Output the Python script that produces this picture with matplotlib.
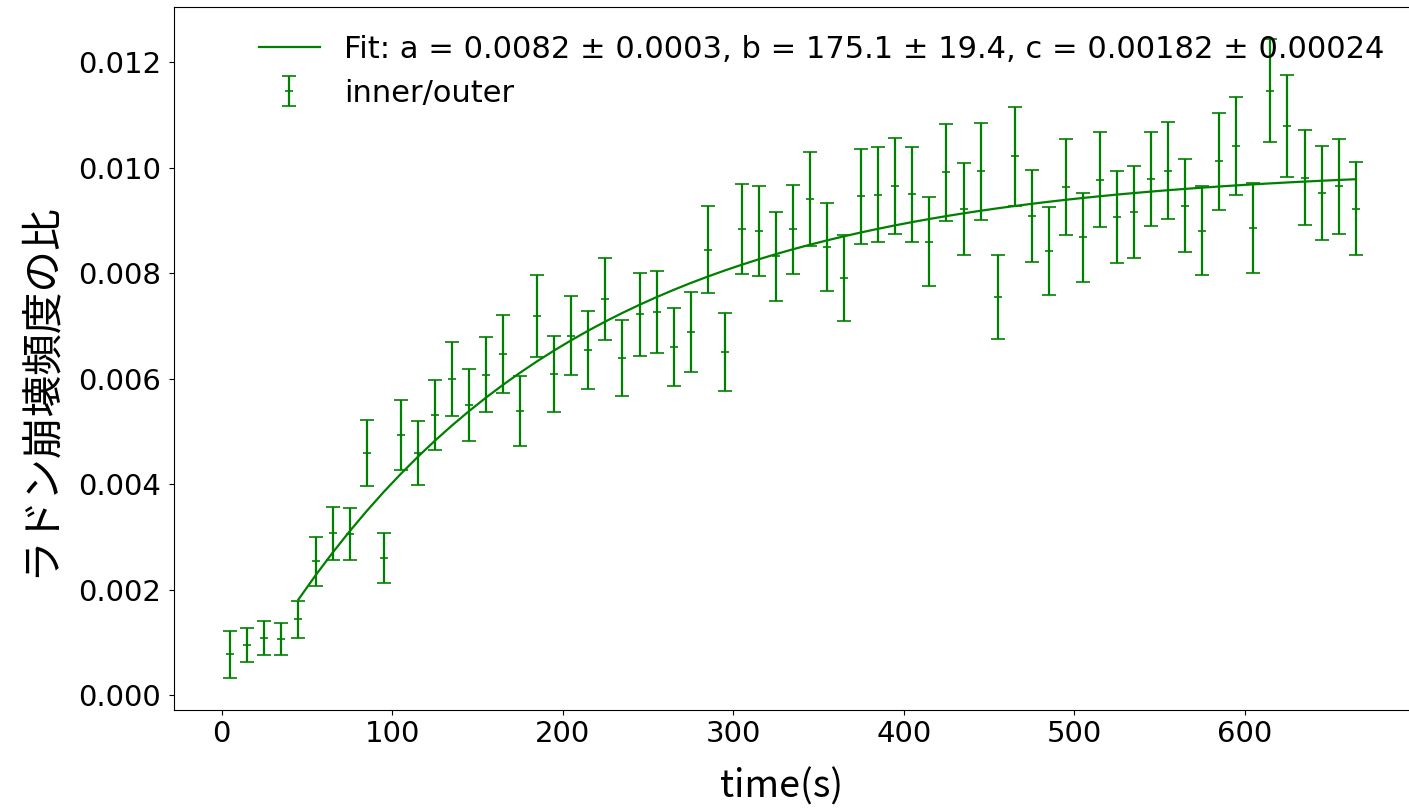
import numpy as np
import matplotlib
matplotlib.use("Agg")
import matplotlib.pyplot as plt

# data
t = np.arange(5, 666, 10)
ratio = [0.00078, 0.00095, 0.00109, 0.00107, 0.00144, 0.00254, 0.00307, 0.00306,
         0.00459, 0.00261, 0.00494, 0.00459, 0.00531, 0.00599, 0.00551, 0.00608,
         0.00647, 0.00539, 0.00719, 0.00610, 0.00682, 0.00655, 0.00751, 0.00639,
         0.00722, 0.00726, 0.00661, 0.00689, 0.00845, 0.00650, 0.00884, 0.00880,
         0.00832, 0.00883, 0.00941, 0.00850, 0.00791, 0.00946, 0.00949, 0.00965,
         0.00950, 0.00860, 0.00991, 0.00922, 0.00993, 0.00755, 0.01022, 0.00909,
         0.00842, 0.00964, 0.00868, 0.00977, 0.00907, 0.00916, 0.00979, 0.00994,
         0.00928, 0.00881, 0.01012, 0.01042, 0.00886, 0.01146, 0.01079, 0.00981,
         0.00953, 0.00965, 0.00922]
err = [0.00045, 0.00032, 0.00032, 0.00030, 0.00035, 0.00047, 0.00051, 0.00050,
       0.00063, 0.00047, 0.00066, 0.00061, 0.00066, 0.00070, 0.00068, 0.00071,
       0.00074, 0.00067, 0.00077, 0.00072, 0.00075, 0.00074, 0.00078, 0.00072,
       0.00078, 0.00078, 0.00074, 0.00076, 0.00083, 0.00074, 0.00085, 0.00086,
       0.00084, 0.00085, 0.00089, 0.00084, 0.00081, 0.00090, 0.00090, 0.00091,
       0.00090, 0.00085, 0.00091, 0.00087, 0.00092, 0.00079, 0.00094, 0.00087,
       0.00084, 0.00091, 0.00084, 0.00090, 0.00087, 0.00087, 0.00089, 0.00092,
       0.00088, 0.00085, 0.00092, 0.00093, 0.00086, 0.00098, 0.00096, 0.00090,
       0.00089, 0.00090, 0.00088]

# fit parameters from the legend
a, a_err = 0.0082, 0.0003
b, b_err = 175.1, 19.4
c, c_err = 0.00182, 0.00024
t0 = 45

t_fit = t[t >= t0]
y_fit = a * (1 - np.exp(-(t_fit - t0) / b)) + c

fig = plt.figure(figsize=(14.09, 8.08), dpi=100)
# right edge of the axes sits just past the picture edge, as in the original crop
ax = fig.add_axes([0.1235, 0.1213, 0.8786, 0.870])

ax.plot(t_fit, y_fit, color='green', lw=1.6,
        label=f'Fit: a = {a:.4f} ± {a_err:.4f}, b = {b:.1f} ± {b_err:.1f}, '
              f'c = {c:.5f} ± {c_err:.5f}')
ax.errorbar(t, ratio, yerr=err, fmt='+', color='green', ms=6, mew=1.2,
            elinewidth=1.6, capsize=5, capthick=1.2, label='inner/outer')

ax.set_xlabel('time(s)', family=['Noto Sans CJK JP', 'DejaVu Sans'],
              fontsize=27, labelpad=14, x=0.491)
ax.set_ylabel('ラドン崩壊頻度の比', family=['Noto Sans CJK JP', 'DejaVu Sans'],
              fontsize=30, labelpad=12, y=0.455)
ax.tick_params(labelsize=21)
ax.tick_params(axis='y', pad=6)
ax.legend(loc='upper right', fontsize=22, frameon=False)

fig.savefig('out.png', dpi=100)
